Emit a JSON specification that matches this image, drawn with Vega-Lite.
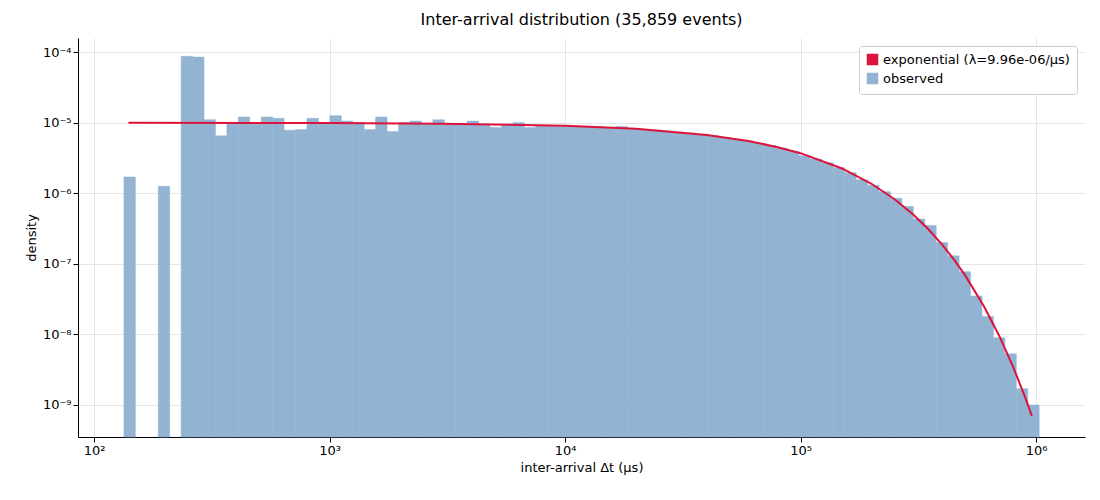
{
  "$schema": "https://vega.github.io/schema/vega-lite/v6.json",
  "autosize": "none",
  "width": 1007,
  "height": 399,
  "padding": {"left": 78, "top": 38, "right": 15, "bottom": 63},
  "config": {
    "view": {"stroke": null},
    "font": "DejaVu Sans",
    "axis": {"labelFontSize": 13, "titleFontSize": 13, "titleFontWeight": "normal", "labelColor": "#000", "titleColor": "#000", "domainColor": "#000", "tickColor": "#000", "gridColor": "#e6e6e6"},
    "title": {"fontSize": 16, "fontWeight": "normal", "color": "#000"}
  },
  "title": {"text": "Inter-arrival distribution (35,859 events)", "offset": 10},
  "datasets": {
    "hist": [
      {"i": 0, "d": 1.7e-6}, {"i": 3, "d": 1.25e-6}, {"i": 5, "d": 8.7e-5}, {"i": 6, "d": 8.5e-5},
      {"i": 7, "d": 1.1e-5}, {"i": 8, "d": 6.5e-6}, {"i": 9, "d": 1.0e-5}, {"i": 10, "d": 1.2e-5},
      {"i": 11, "d": 1.0e-5}, {"i": 12, "d": 1.2e-5}, {"i": 13, "d": 1.15e-5}, {"i": 14, "d": 7.8e-6},
      {"i": 15, "d": 8.0e-6}, {"i": 16, "d": 1.15e-5}, {"i": 17, "d": 1.0e-5}, {"i": 18, "d": 1.25e-5},
      {"i": 19, "d": 1.05e-5}, {"i": 20, "d": 1.0e-5}, {"i": 21, "d": 8.0e-6}, {"i": 22, "d": 1.2e-5},
      {"i": 23, "d": 7.5e-6}, {"i": 24, "d": 1.0e-5}, {"i": 25, "d": 1.05e-5}, {"i": 26, "d": 9.5e-6},
      {"i": 27, "d": 1.1e-5}, {"i": 28, "d": 9.7e-6}, {"i": 29, "d": 9.5e-6}, {"i": 30, "d": 1.05e-5},
      {"i": 31, "d": 9.5e-6}, {"i": 32, "d": 8.5e-6}, {"i": 33, "d": 9.5e-6}, {"i": 34, "d": 1.0e-5},
      {"i": 35, "d": 8.5e-6}, {"i": 36, "d": 9.0e-6}, {"i": 37, "d": 9.1e-6}, {"i": 38, "d": 9.0e-6},
      {"i": 39, "d": 8.9e-6}, {"i": 40, "d": 8.8e-6}, {"i": 41, "d": 8.7e-6}, {"i": 42, "d": 8.5e-6},
      {"i": 43, "d": 8.8e-6}, {"i": 44, "d": 8.2e-6}, {"i": 45, "d": 8.0e-6}, {"i": 46, "d": 7.8e-6},
      {"i": 47, "d": 7.6e-6}, {"i": 48, "d": 7.35e-6}, {"i": 49, "d": 7.1e-6}, {"i": 50, "d": 6.8e-6},
      {"i": 51, "d": 6.5e-6}, {"i": 52, "d": 6.2e-6}, {"i": 53, "d": 5.86e-6}, {"i": 54, "d": 5.5e-6},
      {"i": 55, "d": 5.13e-6}, {"i": 56, "d": 4.73e-6}, {"i": 57, "d": 4.34e-6}, {"i": 58, "d": 3.93e-6},
      {"i": 59, "d": 3.4e-6}, {"i": 60, "d": 3.05e-6}, {"i": 61, "d": 2.7e-6}, {"i": 62, "d": 2.3e-6},
      {"i": 63, "d": 1.95e-6}, {"i": 64, "d": 1.55e-6}, {"i": 65, "d": 1.3e-6}, {"i": 66, "d": 1.05e-6},
      {"i": 67, "d": 8.5e-7}, {"i": 68, "d": 6.5e-7}, {"i": 69, "d": 4.3e-7}, {"i": 70, "d": 3.5e-7},
      {"i": 71, "d": 2.0e-7}, {"i": 72, "d": 1.3e-7}, {"i": 73, "d": 7.7e-8}, {"i": 74, "d": 3.5e-8},
      {"i": 75, "d": 1.8e-8}, {"i": 76, "d": 9.0e-9}, {"i": 77, "d": 5.3e-9}, {"i": 78, "d": 1.7e-9},
      {"i": 79, "d": 1.0e-9}
    ],
    "curve": [
      {"t": 140, "f": 9.95e-6}, {"t": 1000, "f": 9.86e-6}, {"t": 3000, "f": 9.67e-6},
      {"t": 10000, "f": 9.02e-6}, {"t": 20000, "f": 8.16e-6}, {"t": 40000, "f": 6.68e-6},
      {"t": 60000, "f": 5.49e-6}, {"t": 80000, "f": 4.49e-6}, {"t": 100000, "f": 3.69e-6},
      {"t": 150000, "f": 2.24e-6}, {"t": 200000, "f": 1.36e-6}, {"t": 250000, "f": 8.28e-7},
      {"t": 300000, "f": 5.03e-7}, {"t": 350000, "f": 3.06e-7}, {"t": 400000, "f": 1.86e-7},
      {"t": 450000, "f": 1.13e-7}, {"t": 500000, "f": 6.86e-8}, {"t": 600000, "f": 2.53e-8},
      {"t": 700000, "f": 9.35e-9}, {"t": 800000, "f": 3.45e-9}, {"t": 900000, "f": 1.27e-9},
      {"t": 960000, "f": 7.0e-10}
    ]
  },
  "layer": [
    {
      "data": {"name": "hist"},
      "transform": [
        {"calculate": "pow(10, 2.127 + 0.04858 * datum.i)", "as": "x0"},
        {"calculate": "pow(10, 2.127 + 0.04858 * (datum.i + 1))", "as": "x1"}
      ],
      "mark": {"type": "rect", "stroke": "#92b3d2", "strokeWidth": 0.5},
      "encoding": {
        "x": {"field": "x0", "type": "quantitative",
          "scale": {"type": "log", "domain": [85.5, 1614000], "nice": false},
          "axis": {"title": "inter-arrival Δt (μs)", "values": [100, 1000, 10000, 100000, 1000000],
            "labelExpr": "'10' + ['⁰','¹','²','³','⁴','⁵','⁶'][round(log(datum.value)/LN10)]", "grid": true}},
        "x2": {"field": "x1"},
        "y": {"field": "d", "type": "quantitative",
          "scale": {"type": "log", "domain": [3.52e-10, 1.58e-4], "nice": false},
          "axis": {"title": "density", "values": [1e-9, 1e-8, 1e-7, 1e-6, 1e-5, 1e-4],
            "labelExpr": "'10⁻' + ['⁰','¹','²','³','⁴','⁵','⁶','⁷','⁸','⁹'][round(-log(datum.value)/LN10)]", "grid": true}},
        "y2": {"datum": 3.52e-10},
        "color": {"datum": "observed", "type": "nominal",
          "scale": {"domain": ["exponential (λ=9.96e-06/μs)", "observed"], "range": ["#dc143c", "#92b3d2"]},
          "legend": {"title": null, "orient": "top-right", "offset": 8, "labelFontSize": 13, "labelLimit": 400, "symbolType": "square", "symbolOpacity": 1,
            "fillColor": "white", "strokeColor": "#ccc", "padding": 7, "cornerRadius": 3}}
      }
    },
    {
      "data": {"name": "curve"},
      "mark": {"type": "line", "strokeWidth": 2},
      "encoding": {
        "x": {"field": "t", "type": "quantitative"},
        "y": {"field": "f", "type": "quantitative"},
        "color": {"datum": "exponential (λ=9.96e-06/μs)", "type": "nominal"}
      }
    }
  ]
}
